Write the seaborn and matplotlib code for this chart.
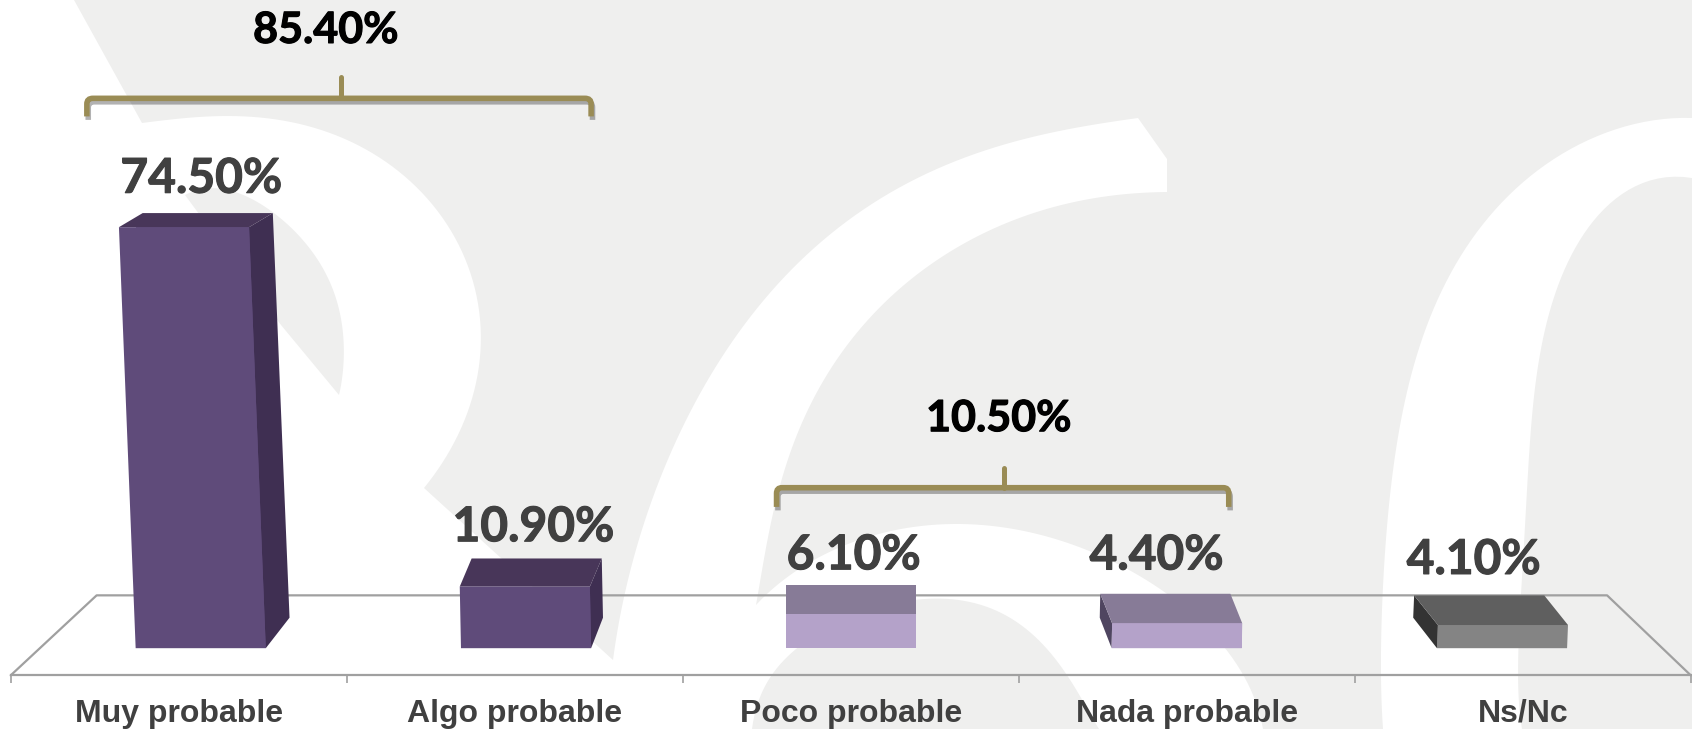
import numpy as np
import pandas as pd
import matplotlib
matplotlib.use("Agg")
import matplotlib.pyplot as plt
import matplotlib.patheffects as pe
from matplotlib.path import Path
from matplotlib.patches import PathPatch, Polygon
import seaborn as sns

# Data
categories = ["Muy probable", "Algo probable", "Poco probable", "Nada probable", "Ns/Nc"]
values = [74.5, 10.9, 6.1, 4.4, 4.1]
value_labels = ["74.50%", "10.90%", "6.10%", "4.40%", "4.10%"]
group_labels = ["85.40%", "10.50%"]

front_colors = ["#5f4b7a", "#5f4b7a", "#b4a2c9", "#b4a2c9", "#848484"]
top_colors = ["#483659", "#483659", "#877b97", "#877b97", "#5f5f5f"]
side_colors = ["#3f2f52", "#3f2f52", "#4f4560", "#4f4560", "#333333"]

GREY = "#efefee"
FLOOR = "#a0a0a0"
BRACE = "#9a8c55"
TEXT = "#404040"


def smooth(points, deg=5, n=80):
    # polynomial curve along the outline points of the watermark, ends pinned
    p = np.array(points, dtype=float)
    s = np.r_[0, np.cumsum(np.hypot(*np.diff(p, axis=0).T))]
    s = s / s[-1]
    deg = min(deg, len(p) - 1)
    t = np.linspace(0, 1, n)
    weights = np.ones(len(p))
    weights[[0, -1]] = 20
    x = np.polyval(np.polyfit(s, p[:, 0], deg, w=weights), t)
    y = np.polyval(np.polyfit(s, p[:, 1], deg, w=weights), t)
    return np.column_stack([x, y])


sns.set_theme(style="white")
plt.rcParams["font.family"] = ["Lato", "DejaVu Sans"]

fig = plt.figure(figsize=(16.92, 7.29), dpi=100, facecolor=GREY)

# Watermark behind the chart, in pixels of the picture
bg = fig.add_axes([0, 0, 1, 1])
bg.set_xlim(0, 1692)
bg.set_ylim(729, 0)
bg.axis("off")

r_top = smooth([(142, 123), (223, 116), (335, 135), (424, 195), (473, 279),
                (480, 335), (469, 409), (424, 488)])
c_outer = smooth([(613, 660), (617, 632), (642, 530), (682, 428), (744, 326),
                  (821, 241), (907, 184), (1009, 143), (1138, 118)])
c_inner = smooth([(1167, 192), (1050, 208), (948, 253), (866, 322), (805, 416),
                  (772, 518), (756, 605)])
arc = smooth([(756, 605), (805, 567), (846, 542), (907, 530), (968, 524), (1070, 542),
              (1143, 580), (1225, 647), (1263, 729)])
white = np.vstack([[(0, 729), (0, 0), (74, 0)], r_top, c_outer, [(1167, 159)], c_inner, arc])
bg.add_patch(Polygon(white, closed=True, fc="white", ec="none"))

counter = np.vstack([smooth([(185, 195), (232, 191), (286, 223), (321, 265), (342, 325),
                             (339, 395)]), [(281, 325)]])
bg.add_patch(Polygon(counter, closed=True, fc=GREY, ec="none"))

inner_arc = smooth([(752, 729), (776, 669), (813, 636), (866, 612), (927, 599),
                    (1009, 616), (1062, 669), (1099, 729)])
bg.add_patch(Polygon(inner_arc, closed=True, fc=GREY, ec="none"))

right_out = smooth([(1383, 729), (1382, 620), (1387, 518), (1407, 396), (1450, 273),
                    (1517, 188), (1600, 135), (1692, 118)])
right_in = smooth([(1692, 178), (1633, 188), (1583, 233), (1550, 314), (1530, 436),
                   (1522, 579), (1522, 729)])
bg.add_patch(Polygon(np.vstack([right_out, right_in]), closed=True, fc="white", ec="none"))

# Chart
ax = fig.add_axes([0, 0, 1, 1])
ax.patch.set_alpha(0)

df = pd.DataFrame({"category": categories, "value": values})
sns.barplot(data=df, x="category", y="value", hue="category", palette=front_colors,
            dodge=False, legend=False, width=0.40, saturation=1, linewidth=0, ax=ax)

ax.set_xlim(-0.617, 4.584)
ax.set_ylim(-14.3, 114.7)
ax.set_xlabel("")
ax.set_ylabel("")
ax.set_yticks([])

# Floor of the 3D chart
step = 311.4 / 301.5
ticks = [-0.584 + step * i for i in range(len(categories) + 1)]
centers = [t + step / 2 for t in ticks[:-1]]
floor_y = -4.8
back_y = 9.35
ax.plot([ticks[0], -0.32, 4.323, ticks[-1]], [floor_y, back_y, back_y, floor_y],
        color=FLOOR, lw=1.6, zorder=0.5)

for name in ["top", "left", "right"]:
    ax.spines[name].set_visible(False)
ax.spines["bottom"].set_position(("data", floor_y))
ax.spines["bottom"].set_bounds(ticks[0], ticks[-1])
ax.spines["bottom"].set_color(FLOOR)
ax.spines["bottom"].set_linewidth(1.6)

ax.set_xticks(ticks, [""] * len(ticks))
ax.set_xticks(centers, categories, minor=True)
ax.tick_params(axis="x", which="major", length=5.4, width=1.2, color=FLOOR, bottom=True)
ax.tick_params(axis="x", which="minor", length=0, pad=17, labelsize=23, labelcolor=TEXT)
for lab in ax.get_xticklabels(minor=True):
    lab.set_family(["Liberation Sans"])
    lab.set_fontweight("bold")

# 3D faces built from the bars seaborn drew
lean = 0.000345
label_dx = [0.0, 0.01, 0.027, -0.007, 0.003]
label_dy = [3.6, 3.05, 2.7, 4.3, 3.8]
for i, bar in enumerate(ax.patches[:len(values)]):
    x0, w, h = bar.get_x(), bar.get_width(), bar.get_height()
    shift = lean * (i - 2) * h
    dx = 0.0365 * (2 - i)
    dy_base = 5.4
    dy_top = 5.4 - 0.039 * h

    fl, fr = x0 + shift, x0 + w + shift
    front = [(x0, 0), (x0 + w, 0), (fr, h), (fl, h)]
    top = [(fl, h), (fr, h), (fr + dx, h + dy_top), (fl + dx, h + dy_top)]
    if i < 2:
        side = [(x0 + w, 0), (fr, h), (fr + dx, h + dy_top), (x0 + w + dx, dy_base)]
    else:
        side = [(x0, 0), (fl, h), (fl + dx, h + dy_top), (x0 + dx, dy_base)]

    ax.add_patch(Polygon(side, closed=True, fc=side_colors[i], ec="none", zorder=3))
    ax.add_patch(Polygon(top, closed=True, fc=top_colors[i], ec="none", zorder=3))
    ax.add_patch(Polygon(front, closed=True, fc=front_colors[i], ec="none", zorder=3.1))

    ax.text(x0 + w / 2 + shift + dx - 0.02 + label_dx[i], h + dy_top + label_dy[i], value_labels[i],
            ha="center", va="baseline", fontsize=34.5, fontweight="bold", color=TEXT, zorder=4,
            path_effects=[pe.withStroke(linewidth=0.8, foreground=TEXT)])


def brace(left, right, mid, y, foot, spike):
    r = (right - left) * 0.012
    verts = [(left, foot), (left, y - 1.0), (left, y), (left + r, y), (right - r, y),
             (right, y), (right, y - 1.0), (right, foot)]
    codes = [Path.MOVETO, Path.LINETO, Path.CURVE3, Path.CURVE3, Path.LINETO,
             Path.CURVE3, Path.CURVE3, Path.LINETO]
    shadow = [pe.SimpleLineShadow(offset=(1, -2.5), shadow_color="black", alpha=0.3), pe.Normal()]
    ax.add_patch(PathPatch(Path(verts, codes), fc="none", ec=BRACE, lw=4, capstyle="butt",
                           zorder=4, path_effects=shadow))
    ax.plot([mid, mid], [y, spike], color=BRACE, lw=3.6, solid_capstyle="round", zorder=4)


brace(-0.35, 1.2, 0.43, 97.3, 94.1, 101.0)
brace(1.77, 3.16, 2.47, 28.4, 25.0, 31.9)

ax.text(0.384, 107.1, group_labels[0], ha="center", va="baseline", fontsize=31,
        fontweight="bold", color="black", zorder=4,
        path_effects=[pe.withStroke(linewidth=0.8, foreground="black")])
ax.text(2.453, 38.4, group_labels[1], ha="center", va="baseline", fontsize=31,
        fontweight="bold", color="black", zorder=4,
        path_effects=[pe.withStroke(linewidth=0.8, foreground="black")])

fig.savefig("out.png", dpi=100, facecolor=GREY)
